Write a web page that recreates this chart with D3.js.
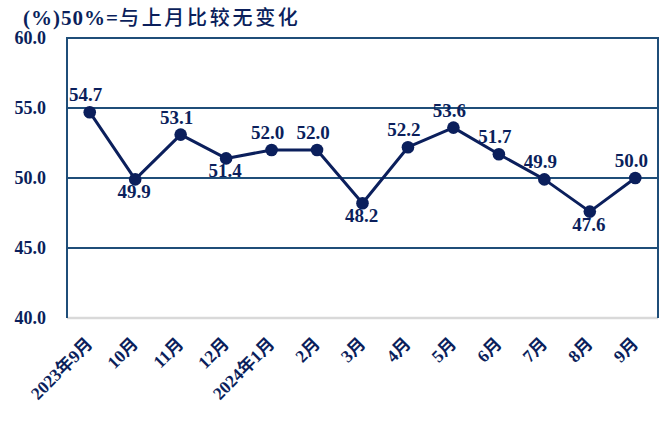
<!DOCTYPE html>
<html><head><meta charset="utf-8">
<script src="https://cdn.jsdelivr.net/npm/d3@7"></script>
<style>
body{margin:0;background:#fff;}
svg{display:block;}
</style></head>
<body>
<svg id="chart" width="672" height="423"></svg>
<script>
const categories = ["2023年9月","10月","11月","12月","2024年1月","2月","3月","4月","5月","6月","7月","8月","9月"];
const values = [54.7,49.9,53.1,51.4,52.0,52.0,48.2,52.2,53.6,51.7,49.9,47.6,50.0];
const labelPos = ["above","below","above","below","above","above","below","above","above","above","above","below","above"];
const yTicks = [40,45,50,55,60];
const titleLatin = "(%)50%=";
const titleCJK = "与上月比较无变化";

const svg = d3.select("#chart");
const margin = {left:67, right:14, top:38, bottom:105};
const W = 672, H = 423;
const x = d3.scaleBand().domain(categories).range([margin.left, W - margin.right]);
const y = d3.scaleLinear().domain([40,60]).range([H - margin.bottom, margin.top]);
const cx = d => x(d) + x.bandwidth()/2;

const gridColor = "#1f4e79";
const markColor = "#0b1f5c";
const textColor = "#0b1f5c";
const serif = "'Liberation Serif', 'Times New Roman', serif";

// gridlines
svg.append("g").selectAll("line").data(yTicks.filter(t=>t>40)).join("line")
  .attr("x1", margin.left).attr("x2", W - margin.right)
  .attr("y1", d=>y(d)).attr("y2", d=>y(d))
  .attr("stroke", gridColor).attr("stroke-width", 2);
// bottom axis line
svg.append("line").attr("x1", margin.left).attr("x2", W - margin.right)
  .attr("y1", y(40)).attr("y2", y(40)).attr("stroke", "#d9d9d9").attr("stroke-width", 2.5);
// left & right borders
svg.append("line").attr("x1", margin.left).attr("x2", margin.left)
  .attr("y1", y(60)-1).attr("y2", y(40)).attr("stroke", gridColor).attr("stroke-width", 2);
svg.append("line").attr("x1", W - margin.right).attr("x2", W - margin.right)
  .attr("y1", y(60)-1).attr("y2", y(40)).attr("stroke", gridColor).attr("stroke-width", 2);

// y tick labels
svg.append("g").selectAll("text").data(yTicks).join("text")
  .attr("x", 46).attr("y", d=>y(d)+6)
  .attr("text-anchor","end")
  .style("font-family", serif).style("font-weight","bold").style("font-size","18px")
  .attr("fill", textColor).text(d=>d.toFixed(1));

// x labels
svg.append("g").selectAll("text").data(categories).join("text")
  .attr("transform", d=>`translate(${cx(d)+4},${y(40)+27}) rotate(-45)`)
  .attr("text-anchor","end")
  .style("font-family", serif + ", 'Noto Sans CJK SC'").style("font-weight","bold").style("font-size","17.5px")
  .attr("fill", textColor).text(d=>d);

// line
const line = d3.line().x((d,i)=>cx(categories[i])).y(d=>y(d));
svg.append("path").datum(values).attr("d", line)
  .attr("fill","none").attr("stroke", markColor).attr("stroke-width", 3).attr("stroke-linejoin","round");
svg.append("g").selectAll("circle").data(values).join("circle")
  .attr("cx",(d,i)=>cx(categories[i])).attr("cy", d=>y(d)).attr("r", 6.3)
  .attr("fill", markColor);

// data labels
svg.append("g").selectAll("text").data(values).join("text")
  .attr("x",(d,i)=>cx(categories[i]) + (labelPos[i]==="above" ? -4 : -1))
  .attr("y",(d,i)=> labelPos[i]==="above" ? y(d)-11 : y(d)+19)
  .attr("text-anchor","middle")
  .style("font-family", serif).style("font-weight","bold").style("font-size","19px")
  .attr("fill", textColor).text(d=>d.toFixed(1));

// title
const title = svg.append("text").attr("x", 23).attr("y", 25).attr("fill", textColor);
title.append("tspan")
  .style("font-family", serif).style("font-weight","bold").style("font-size","21px").style("letter-spacing","1px")
  .text(titleLatin);
title.append("tspan")
  .style("font-family","'Noto Sans CJK SC', sans-serif").style("font-weight","500").style("font-size","20px").style("letter-spacing","2.7px")
  .text(titleCJK);
</script>
</body></html>
